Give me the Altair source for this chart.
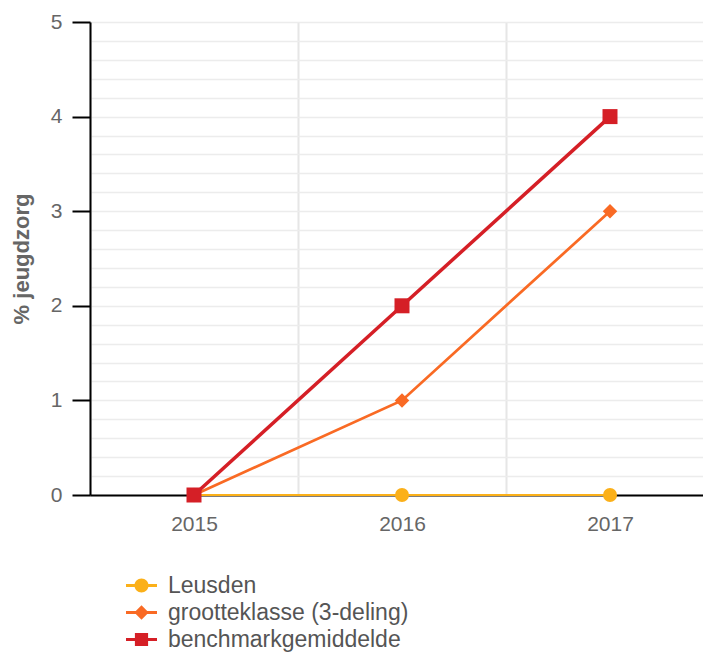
import altair as alt
import pandas as pd

YEARS = ["2015", "2016", "2017"]
SERIES = ["Leusden", "grootteklasse (3-deling)", "benchmarkgemiddelde"]
LEUSDEN = [0, 0, 0]
GROOTTEKLASSE = [0, 1, 3]
BENCHMARK = [0, 2, 4]
Y_GRID = [0, 0.2, 0.4, 0.6, 0.8, 1, 1.2, 1.4, 1.6, 1.8, 2, 2.2, 2.4, 2.6, 2.8,
          3, 3.2, 3.4, 3.6, 3.8, 4, 4.2, 4.4, 4.6, 4.8, 5]
COLORS = ["#fbb019", "#f96a24", "#d51f26"]
SHAPES = ["circle", "diamond", "square"]
POINT_SIZES = [196, 225, 256]
LINE_WIDTHS = [2, 3.5, 3.5]

# legend symbols: line with the marker in the middle (unit = 10px)
BAR = "M-1.55,-0.15H-0.5V0.15H-1.55Z M0.5,-0.15H1.55V0.15H0.5Z "
LEGEND_SHAPES = [
    BAR + "M-0.7,0 A0.7,0.7 0 1,1 0.7,0 A0.7,0.7 0 1,1 -0.7,0 Z",
    BAR + "M0,-0.72 L0.72,0 L0,0.72 L-0.72,0 Z",
    BAR + "M-0.66,-0.66 H0.66 V0.66 H-0.66 Z",
]

rows = []
for name, vals in zip(SERIES, [LEUSDEN, GROOTTEKLASSE, BENCHMARK]):
    for yr, v in zip(YEARS, vals):
        rows.append({"year": yr, "value": v, "series": name})
df = pd.DataFrame(rows)

FONT = "Liberation Sans"

x_enc = alt.X(
    "year:O",
    title=None,
    sort=YEARS,
    scale=alt.Scale(paddingInner=0, paddingOuter=0, range=[0, 624]),
    axis=alt.Axis(
        labelAngle=0, labelFontSize=21, labelColor="#666666", labelFont=FONT,
        labelPadding=18, ticks=False, tickSize=0, tickBand="extent",
        domainColor="#000000", domainWidth=2,
        grid=True, gridColor="#e6e6e6", gridWidth=2,
    ),
)
y_enc = alt.Y(
    "value:Q",
    title="% jeugdzorg",
    scale=alt.Scale(domain=[0, 5], nice=False),
    axis=alt.Axis(
        values=Y_GRID,
        labelExpr="datum.value % 1 === 0 ? format(datum.value, 'd') : ''",
        labelFontSize=21, labelColor="#666666", labelFont=FONT, labelPadding=10,
        tickSize=18, tickWidth=2, tickColor="#000000",
        tickOpacity={"condition": {"test": "datum.value % 1 === 0", "value": 1}, "value": 0},
        domainColor="#000000", domainWidth=2,
        grid=True, gridColor="#ececec", gridWidth=1.5,
        titleFontSize=22, titleFont=FONT, titleColor="#666666", titleFontWeight="bold",
        titlePadding=17,
    ),
)

color_scale = alt.Scale(domain=SERIES, range=COLORS)

lines = alt.Chart(df).mark_line().encode(
    x=x_enc,
    y=y_enc,
    color=alt.Color("series:N", scale=color_scale, legend=None),
    strokeWidth=alt.StrokeWidth("series:N", scale=alt.Scale(domain=SERIES, range=LINE_WIDTHS), legend=None),
)

points = alt.Chart(df).mark_point(filled=True, opacity=1).encode(
    x=x_enc,
    y=y_enc,
    color=alt.Color("series:N", scale=color_scale, legend=None),
    shape=alt.Shape("series:N", scale=alt.Scale(domain=SERIES, range=SHAPES), legend=None),
    size=alt.Size("series:N", scale=alt.Scale(domain=SERIES, range=POINT_SIZES), legend=None),
)

# carries only the legend (no marks drawn; the scale domain is explicit)
legend_layer = alt.Chart(df).transform_filter("false").mark_point(filled=True, opacity=1).encode(
    x=x_enc,
    y=y_enc,
    color=alt.Color(
        "series:N", scale=color_scale,
        legend=alt.Legend(
            title=None, orient="none", legendX=40, legendY=552, direction="vertical",
            labelFontSize=23, labelColor="#555555", labelFont=FONT, labelOffset=15,
            symbolSize=400, symbolStrokeWidth=0, symbolOpacity=1, rowPadding=3,
            padding=0, labelLimit=400,
        ),
    ),
    shape=alt.Shape("series:N", scale=alt.Scale(domain=SERIES, range=LEGEND_SHAPES)),
)

chart = (
    alt.layer(lines, points, legend_layer)
    .resolve_scale(color="independent", shape="independent")
    .resolve_legend(color="independent", shape="independent")
    .properties(
        width=613, height=473,
        autosize=alt.AutoSizeParams(type="none"),
        padding={"left": 82, "top": 14, "right": 0, "bottom": 157},
    )
    .configure_view(stroke=None)
    .configure(background="#ffffff")
)

chart.save("out.html", embed_options={"renderer": "svg", "actions": False})
